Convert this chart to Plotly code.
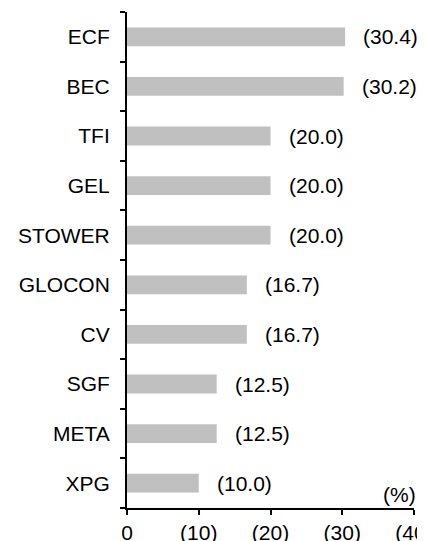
import plotly.graph_objects as go

categories = ["ECF", "BEC", "TFI", "GEL", "STOWER", "GLOCON", "CV", "SGF", "META", "XPG"]
values = [30.4, 30.2, 20.0, 20.0, 20.0, 16.7, 16.7, 12.5, 12.5, 10.0]
value_labels = ["(30.4)", "(30.2)", "(20.0)", "(20.0)", "(20.0)", "(16.7)", "(16.7)", "(12.5)", "(12.5)", "(10.0)"]
x_ticks = [0, 10, 20, 30, 40]
x_tick_text = ["0", "(10)", "(20)", "(30)", "(40)"]

n = len(categories)

font = dict(family="Liberation Sans, Arial, sans-serif", size=21, color="black")

fig = go.Figure(go.Bar(
    x=values, y=categories, orientation="h",
    marker=dict(color="#C0C0C0", line=dict(width=0)),
))

for c, v, t in zip(categories, values, value_labels):
    fig.add_annotation(x=v, y=c, text=t, showarrow=False, xanchor="left",
                       xshift=16, font=font)

fig.add_annotation(x=40, y=0, xref="x", yref="paper", text="(%)", showarrow=False,
                   xanchor="right", yanchor="bottom", yshift=0, xshift=4, font=font)

fig.update_layout(
    width=417, height=533,
    margin=dict(l=119, r=11, t=4, b=33),
    plot_bgcolor="white", paper_bgcolor="white",
    bargap=0.62, showlegend=False, font=font,
    xaxis=dict(range=[0, 40], tickvals=x_ticks, ticktext=x_tick_text,
               showgrid=False, zeroline=False, showline=True, linecolor="black",
               linewidth=2, ticks="outside", ticklen=5, tickwidth=2, tickcolor="black",
               tickfont=font, automargin=False, ticklabeloverflow="allow"),
    yaxis=dict(categoryorder="array", categoryarray=categories[::-1],
               range=[-0.5, n - 0.5],
               showgrid=False, zeroline=False, showline=True, linecolor="black",
               linewidth=2, ticks="outside", ticklen=5, tickwidth=2, tickcolor="black",
               tickson="boundaries", tickfont=font, automargin=False,
               ticklabelstandoff=11),
)

fig.write_html("out.html")
